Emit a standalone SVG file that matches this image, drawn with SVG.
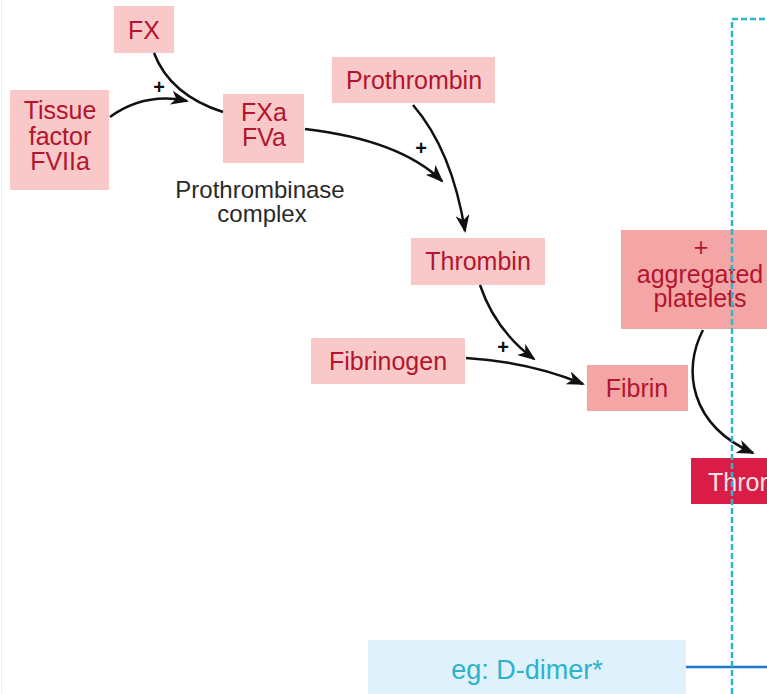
<svg xmlns="http://www.w3.org/2000/svg" width="767" height="694" viewBox="0 0 767 694">
<defs>
<marker id="ah" markerUnits="userSpaceOnUse" markerWidth="18" markerHeight="14" viewBox="0 0 18 14" refX="16" refY="7" orient="auto">
<path d="M0,0 L18,7 L0,14 L5,7 z" fill="#111"/>
</marker>
</defs>
<style>
.box{fill:#f9c8c8}
.box2{fill:#f4a6a6}
.t{font-family:"Liberation Sans",Arial,sans-serif;font-size:25px;fill:#b3152f;text-anchor:middle}
.lbl{font-family:"Liberation Sans",Arial,sans-serif;font-size:24px;fill:#2a2a2a;text-anchor:middle}
.plus{font-family:"Liberation Sans",Arial,sans-serif;font-size:20px;font-weight:bold;fill:#111;text-anchor:middle}
.c{fill:none;stroke:#111;stroke-width:2.5}
.ca{fill:none;stroke:#111;stroke-width:2.5;marker-end:url(#ah)}
</style>
<rect x="0" y="0" width="767" height="694" fill="#fff"/>
<line x1="1.5" y1="0" x2="1.5" y2="694" stroke="#eeeeee" stroke-width="1"/>

<g id="fx"><rect class="box" x="114" y="6" width="60" height="47"/><text class="t" x="144" y="39">FX</text></g>
<g id="tissue-factor"><rect class="box" x="10" y="90" width="99" height="100"/><text class="t" x="60" y="119">Tissue</text><text class="t" x="60" y="145">factor</text><text class="t" x="60" y="170">FVIIa</text></g>
<g id="fxa-fva"><rect class="box" x="223" y="94" width="81" height="69"/><text class="t" x="264" y="121">FXa</text><text class="t" x="264" y="146">FVa</text></g>
<g id="prothrombinase-label"><text class="lbl" x="260" y="198">Prothrombinase</text><text class="lbl" x="262" y="222">complex</text></g>
<g id="prothrombin"><rect class="box" x="332" y="57" width="163" height="46"/><text class="t" x="414" y="89">Prothrombin</text></g>
<g id="thrombin"><rect class="box" x="411" y="238" width="134" height="47"/><text class="t" x="478" y="270">Thrombin</text></g>
<g id="fibrinogen"><rect class="box" x="311" y="338" width="154" height="46"/><text class="t" x="388" y="370">Fibrinogen</text></g>
<g id="fibrin"><rect class="box2" x="587" y="365" width="101" height="46"/><text class="t" x="637" y="397">Fibrin</text></g>
<g id="aggregated-platelets"><rect class="box2" x="621" y="230" width="160" height="99"/><text class="t" x="701" y="256">+</text><text class="t" x="700" y="283">aggregated</text><text class="t" x="700" y="307">platelets</text></g>
<g id="thrombus"><rect x="691" y="458" width="90" height="46" fill="#d91d46"/><text x="708" y="491" font-family="Liberation Sans,Arial,sans-serif" font-size="25" fill="#ffe3e6">Thrombus</text></g>
<g id="d-dimer"><rect x="368" y="640" width="318" height="54" fill="#dff2fb"/><text x="527" y="679" font-family="Liberation Sans,Arial,sans-serif" font-size="27" fill="#2bb3cb" text-anchor="middle">eg: D-dimer*</text></g>

<g id="connectors">
<path class="ca" d="M110,117 Q145,92 187,101"/>
<path class="c" d="M154,53 Q170,95 223,112"/>
<path class="ca" d="M305,129 Q400,140 442,181"/>
<path class="ca" d="M413,105 Q452,150 465,231"/>
<path class="ca" d="M480,285 Q495,330 534,359"/>
<path class="ca" d="M466,358 Q530,362 583,384"/>
<path class="ca" d="M703,330 C682,370 690,425 753,453"/>
<line x1="686" y1="667" x2="767" y2="667" stroke="#1f78c8" stroke-width="2.5"/>
<path d="M732,694 L732,19 L767,19" fill="none" stroke="#2bb5cf" stroke-width="2.5" stroke-dasharray="6 3"/>
</g>
<g id="plus-signs">
<text class="plus" x="159" y="94">+</text>
<text class="plus" x="421" y="155">+</text>
<text class="plus" x="503" y="354">+</text>
</g>
</svg>
